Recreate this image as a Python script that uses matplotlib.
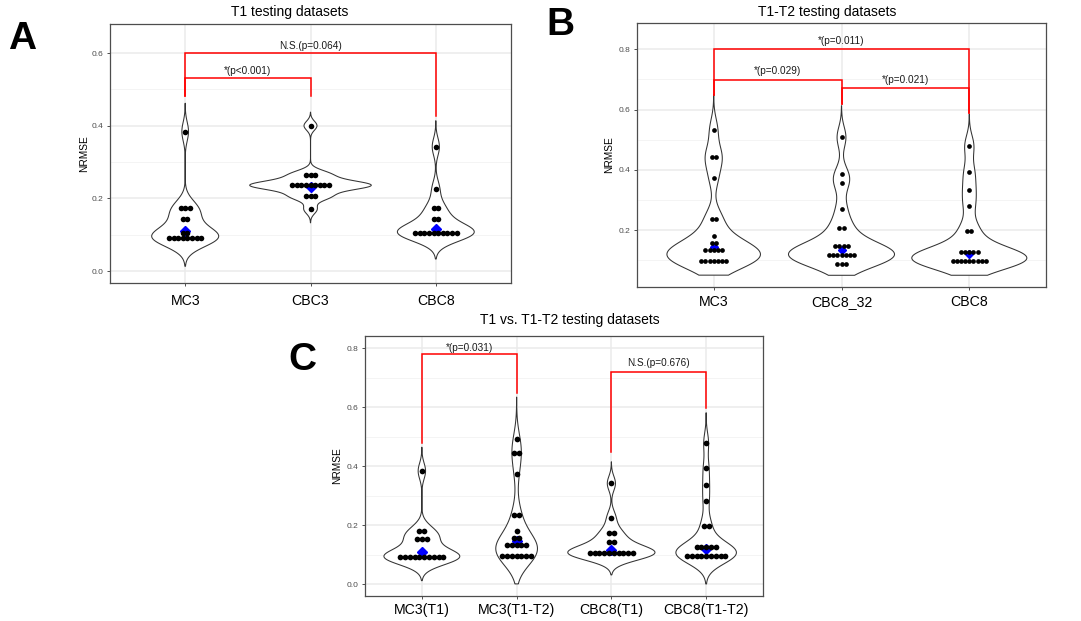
import numpy as np
import matplotlib
matplotlib.use("Agg")
from matplotlib import pyplot as plt

plt.rcParams['font.family'] = ['Liberation Sans', 'DejaVu Sans']

# ---- data ----
A_CATS = ["MC3", "CBC3", "CBC8"]
A_MC3 = [0.384, 0.173, 0.173, 0.173, 0.144, 0.144, 0.106, 0.106,
         0.091, 0.091, 0.091, 0.091, 0.091, 0.091, 0.091, 0.091]
A_CBC3 = [0.400, 0.265, 0.265, 0.265,
          0.236, 0.236, 0.236, 0.236, 0.236, 0.236, 0.236, 0.236, 0.236,
          0.206, 0.206, 0.206, 0.170]
A_CBC8 = [0.342, 0.226, 0.173, 0.173, 0.142, 0.142,
          0.105, 0.105, 0.105, 0.105, 0.105, 0.105, 0.105, 0.105, 0.105, 0.105]
A_MEANS = [0.109, 0.230, 0.116]
# kernel bandwidths, estimated from how far the violin tails run past the dots
A_BW = [0.026, 0.0125, 0.024]

B_CATS = ["MC3", "CBC8_32", "CBC8"]
B_MC3 = [0.533, 0.444, 0.444, 0.373, 0.236, 0.236, 0.180, 0.157, 0.157,
         0.133, 0.133, 0.133, 0.133, 0.133,
         0.099, 0.099, 0.099, 0.099, 0.099, 0.099, 0.099]
B_CBC8_32 = [0.508, 0.385, 0.356, 0.271, 0.208, 0.208,
             0.147, 0.147, 0.147, 0.147,
             0.117, 0.117, 0.117, 0.117, 0.117, 0.117, 0.117,
             0.088, 0.088, 0.088]
B_CBC8 = [0.480, 0.394, 0.335, 0.282, 0.198, 0.198,
          0.127, 0.127, 0.127, 0.127, 0.127,
          0.098, 0.098, 0.098, 0.098, 0.098, 0.098, 0.098, 0.098, 0.098]
B_MEANS = [0.143, 0.133, 0.120]
B_BW = [0.039, 0.035, 0.035]

C_CATS = ["MC3(T1)", "MC3(T1-T2)", "CBC8(T1)", "CBC8(T1-T2)"]
C_MC3_T1 = [0.384, 0.181, 0.181, 0.154, 0.154, 0.154,
            0.093, 0.093, 0.093, 0.093, 0.093, 0.093, 0.093, 0.093, 0.093, 0.093]
C_MC3_T1T2 = [0.491, 0.444, 0.444, 0.374, 0.236, 0.236, 0.181, 0.156, 0.156,
              0.132, 0.132, 0.132, 0.132, 0.132,
              0.097, 0.097, 0.097, 0.097, 0.097, 0.097, 0.097]
C_CBC8_T1 = [0.342, 0.226, 0.174, 0.174, 0.143, 0.143,
             0.105, 0.105, 0.105, 0.105, 0.105, 0.105, 0.105, 0.105, 0.105, 0.105]
C_CBC8_T1T2 = [0.480, 0.395, 0.336, 0.281, 0.198, 0.198,
               0.127, 0.127, 0.127, 0.127, 0.127,
               0.097, 0.097, 0.097, 0.097, 0.097, 0.097, 0.097, 0.097, 0.097]
C_MEANS = [0.109, 0.148, 0.116, 0.120]
C_BW = [0.027, 0.048, 0.0245, 0.034]

# brackets: (x1, x2, y, leg1 bottom, leg2 bottom, label, label y)
A_BRACKETS = [(1, 3, 0.600, 0.481, 0.428, "N.S.(p=0.064)", 0.620),
              (1, 2, 0.530, 0.481, 0.481, "*(p<0.001)", 0.550)]
B_BRACKETS = [(1, 3, 0.800, 0.649, 0.588, "*(p=0.011)", 0.828),
              (1, 2, 0.698, 0.649, 0.619, "*(p=0.029)", 0.729),
              (2, 3, 0.670, 0.619, 0.588, "*(p=0.021)", 0.697)]
C_BRACKETS = [(1, 2, 0.781, 0.480, 0.650, "*(p=0.031)", 0.802),
              (3, 4, 0.721, 0.450, 0.597, "N.S.(p=0.676)", 0.751)]

W, H = 1081, 621


def kde(x, bw):
    x = np.asarray(x)
    grid = np.linspace(x.min() - 3 * bw, x.max() + 3 * bw, 512)
    d = np.exp(-0.5 * ((grid[:, None] - x[None, :]) / bw) ** 2).sum(axis=1)
    d = d / (len(x) * bw * np.sqrt(2 * np.pi))
    return grid, d


def panel(rect, title, title_xy, cats, groups, means, bws, brackets, ylim, yticks,
          floor, half_w, dot_px, ms, ylab_x, xpad):
    ax = fig.add_axes(rect)
    ax.set_xlim(0.4, len(cats) + 0.6)
    ax.set_ylim(*ylim)
    ax.set_facecolor("white")

    # grid like theme_bw
    step = yticks[1] - yticks[0]
    minors = np.arange(yticks[0] - step / 2, ylim[1], step)
    for m in minors:
        if ylim[0] < m < ylim[1]:
            ax.axhline(m, color="#F3F3F3", lw=0.6, zorder=0)
    for t in yticks:
        ax.axhline(t, color="#EBEBEB", lw=1.1, zorder=0)
    for i in range(len(cats)):
        ax.axvline(i + 1, color="#EBEBEB", lw=1.1, zorder=0)

    dens = [kde(g, b) for g, b in zip(groups, bws)]
    dmax = max(d.max() for _, d in dens)
    x_per_px = (len(cats) + 0.2) / (rect[2] * W)

    for i, (g, (grid, d)) in enumerate(zip(groups, dens)):
        pos = i + 1
        keep = grid >= floor
        yy, ww = grid[keep], d[keep] / dmax * half_w
        xs = np.concatenate([pos - ww, (pos + ww)[::-1]])
        ys = np.concatenate([yy, yy[::-1]])
        ax.fill(xs, ys, facecolor="white", edgecolor="#333333", lw=0.75, zorder=2)

        ax.plot(pos, means[i], marker="D", ms=ms * 1.25, color="#0000FF",
                ls="none", zorder=3)
        vals, counts = np.unique(g, return_counts=True)
        for v, n in zip(vals, counts):
            offs = (np.arange(n) - (n - 1) / 2) * dot_px * x_per_px
            ax.plot(pos + offs, np.full(n, v), "o", color="black", ms=ms,
                    mew=0, zorder=4)

    for x1, x2, y, b1, b2, lab, ly in brackets:
        ax.plot([x1, x1, x2, x2], [b1, y, y, b2], color="#FF0000", lw=1.1,
                zorder=5, solid_joinstyle="miter")
        ax.text((x1 + x2) / 2, ly, lab, ha="center", va="center", fontsize=7.2,
                color="#1A1A1A", zorder=6)

    # category labels on a common baseline (so "CBC8_32" does not drop)
    ax.set_xticks(range(1, len(cats) + 1))
    ax.set_xticklabels([])
    for i, c in enumerate(cats):
        ax.annotate(c, xy=(i + 1, 0), xycoords=("data", "axes fraction"),
                    xytext=(0, -xpad), textcoords="offset points",
                    ha="center", va="baseline", fontsize=10.2, color="black")
    ax.set_yticks(yticks)
    ax.set_yticklabels(["%.1f" % t for t in yticks], fontsize=6, color="#4D4D4D")
    ax.tick_params(axis="both", length=2.5, width=0.6, color="#333333", pad=2)
    ax.set_ylabel("NRMSE", fontsize=7.3)
    ax.yaxis.set_label_coords(ylab_x, 0.5)
    for s in ax.spines.values():
        s.set_color("#4D4D4D")
        s.set_linewidth(0.9)

    fig.text(title_xy[0] / W, 1 - title_xy[1] / H, title, ha="center",
             va="center", fontsize=10)
    return ax


fig = plt.figure(figsize=(W / 100, H / 100), dpi=100)

panel([110 / W, 1 - 283 / H, 401 / W, 259 / H], "T1 testing datasets", (290, 12),
      A_CATS, [A_MC3, A_CBC3, A_CBC8], A_MEANS, A_BW, A_BRACKETS,
      (-0.033, 0.68), [0.0, 0.2, 0.4, 0.6], -1, 0.485, 4.6, 4.0, -0.052, 15.5)

panel([637 / W, 1 - 287 / H, 409 / W, 264 / H], "T1-T2 testing datasets", (827, 12),
      B_CATS, [B_MC3, B_CBC8_32, B_CBC8], B_MEANS, B_BW, B_BRACKETS,
      (0.012, 0.887), [0.2, 0.4, 0.6, 0.8], 0.05, 0.45, 4.1, 3.4, -0.056, 13.5)

panel([365 / W, 1 - 596 / H, 398 / W, 260 / H], "T1 vs. T1-T2 testing datasets", (570, 320),
      C_CATS, [C_MC3_T1, C_MC3_T1T2, C_CBC8_T1, C_CBC8_T1T2], C_MEANS, C_BW, C_BRACKETS,
      (-0.040, 0.842), [0.0, 0.2, 0.4, 0.6, 0.8], 0.0, 0.46, 4.8, 4.1, -0.058, 13)

# panel letters
for lab, (x, y) in zip(["A", "B", "C"], [(22, 39), (560, 25), (302, 360)]):
    fig.text(x / W, 1 - y / H, lab, ha="center", va="center", fontsize=28,
             fontweight="bold")

fig.savefig("out.png", dpi=100)
